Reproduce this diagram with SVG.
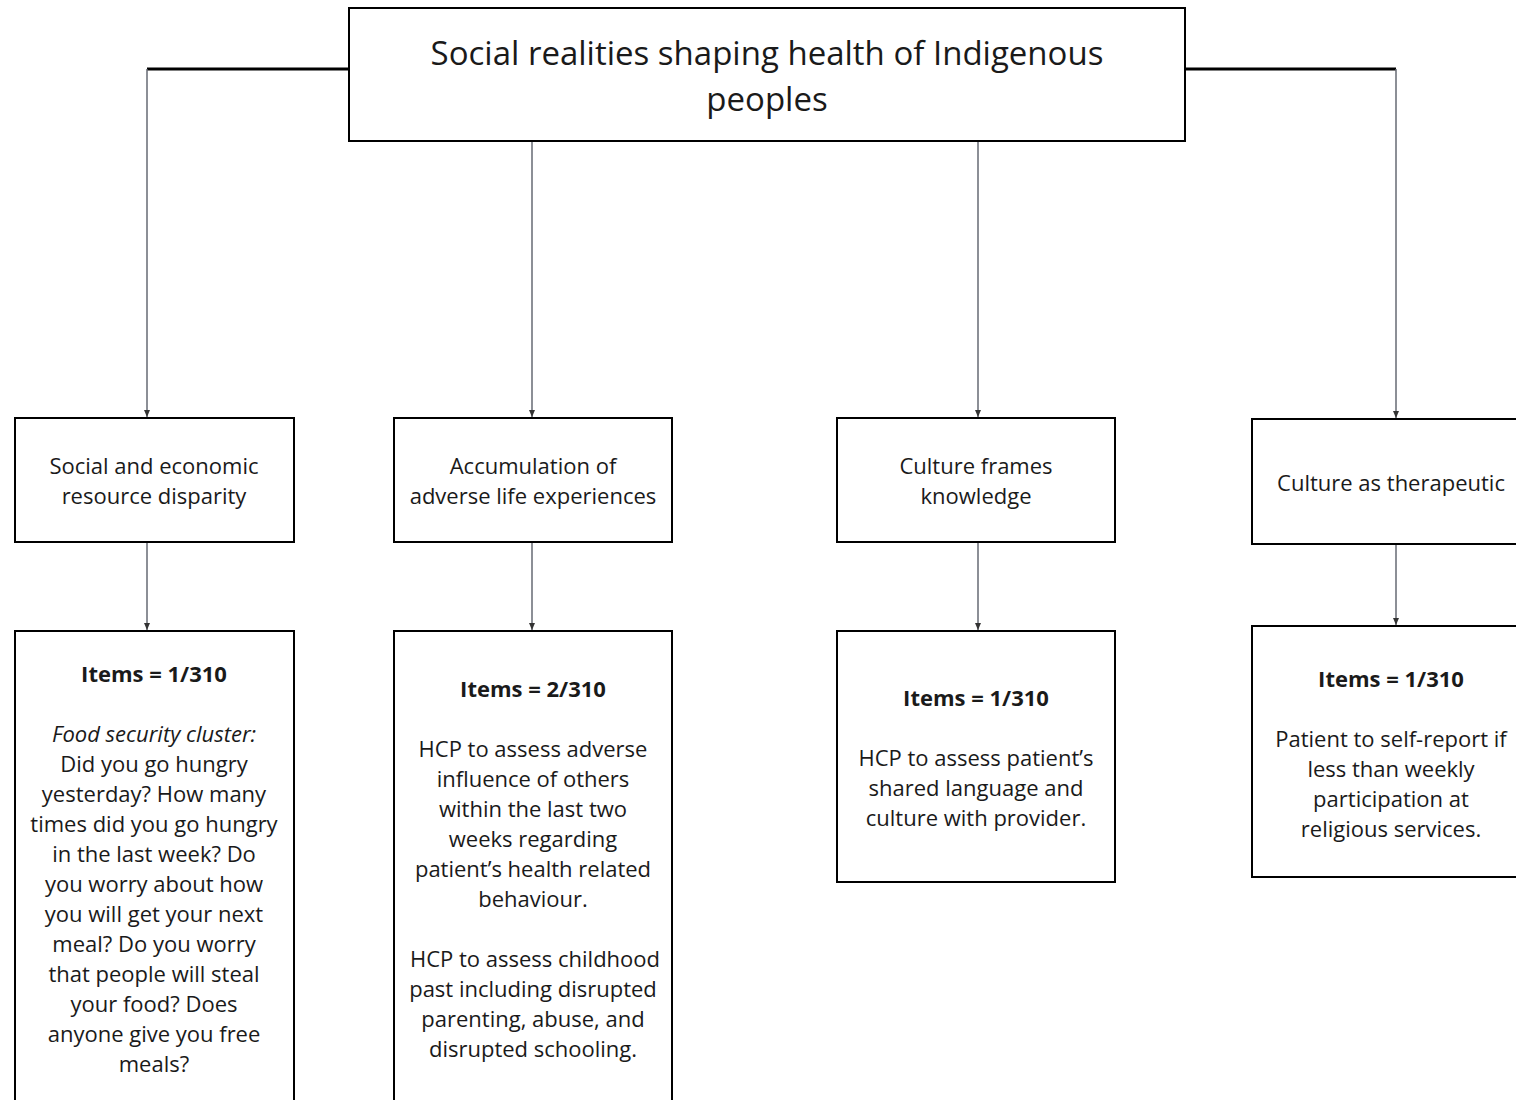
<svg xmlns="http://www.w3.org/2000/svg" width="1516" height="1100" viewBox="0 0 1516 1100">
<style>
.box{fill:#fff;stroke:#000;stroke-width:2}
.t{font-family:"Open Sans","Liberation Sans",sans-serif;font-size:22px;fill:#1a1a1a;text-anchor:middle}
.title{font-size:33px}
.b{font-weight:bold}
.i{font-style:italic}
.h{fill:none;stroke:#000;stroke-width:3}
.v{fill:none;stroke:#666a73;stroke-width:1.5;marker-end:url(#ah)}
</style>
<defs>
<marker id="ah" markerWidth="7" markerHeight="6" refX="7" refY="3" orient="auto" markerUnits="userSpaceOnUse" viewBox="0 0 7 6">
<path d="M0,0 L7,3 L0,6 Z" fill="#333"/>
</marker>
</defs>
<rect width="1516" height="1100" fill="#fff"/>
<g id="connectors">
<path class="h" d="M349,69 H147"/>
<path class="h" d="M1185,69 H1396"/>
<path class="v" d="M147,69 V417"/>
<path class="v" d="M532,141 V417"/>
<path class="v" d="M978,141 V417"/>
<path class="v" d="M1396,69 V418"/>
<path class="v" d="M147,542 V630"/>
<path class="v" d="M532,542 V630"/>
<path class="v" d="M978,542 V630"/>
<path class="v" d="M1396,544 V625"/>
</g>
<g id="root">
<rect class="box" x="349" y="8" width="836" height="133"/>
<text class="t title" x="767" y="65">Social realities shaping health of Indigenous</text>
<text class="t title" x="767" y="111">peoples</text>
</g>
<g id="n1">
<rect class="box" x="15" y="418" width="279" height="124"/>
<text class="t" x="154" y="474">Social and economic</text>
<text class="t" x="154" y="504">resource disparity</text>
</g>
<g id="n2">
<rect class="box" x="394" y="418" width="278" height="124"/>
<text class="t" x="533" y="474">Accumulation of</text>
<text class="t" x="533" y="504">adverse life experiences</text>
</g>
<g id="n3">
<rect class="box" x="837" y="418" width="278" height="124"/>
<text class="t" x="976" y="474">Culture frames</text>
<text class="t" x="976" y="504">knowledge</text>
</g>
<g id="n4">
<rect class="box" x="1252" y="419" width="280" height="125"/>
<text class="t" x="1391" y="491">Culture as therapeutic</text>
</g>
<g id="d1">
<rect class="box" x="15" y="631" width="279" height="480"/>
<text class="t b" x="154" y="682">Items = 1/310</text>
<text class="t i" x="154" y="742">Food security cluster:</text>
<text class="t" x="154" y="772">Did you go hungry</text>
<text class="t" x="154" y="802">yesterday? How many</text>
<text class="t" x="154" y="832">times did you go hungry</text>
<text class="t" x="154" y="862">in the last week? Do</text>
<text class="t" x="154" y="892">you worry about how</text>
<text class="t" x="154" y="922">you will get your next</text>
<text class="t" x="154" y="952">meal? Do you worry</text>
<text class="t" x="154" y="982">that people will steal</text>
<text class="t" x="154" y="1012">your food? Does</text>
<text class="t" x="154" y="1042">anyone give you free</text>
<text class="t" x="154" y="1072">meals?</text>
</g>
<g id="d2">
<rect class="box" x="394" y="631" width="278" height="480"/>
<text class="t b" x="533" y="697">Items = 2/310</text>
<text class="t" x="533" y="757">HCP to assess adverse</text>
<text class="t" x="533" y="787">influence of others</text>
<text class="t" x="533" y="817">within the last two</text>
<text class="t" x="533" y="847">weeks regarding</text>
<text class="t" x="533" y="877">patient’s health related</text>
<text class="t" x="533" y="907">behaviour.</text>
<text class="t" x="535" y="967">HCP to assess childhood</text>
<text class="t" x="533" y="997">past including disrupted</text>
<text class="t" x="533" y="1027">parenting, abuse, and</text>
<text class="t" x="533" y="1057">disrupted schooling.</text>
</g>
<g id="d3">
<rect class="box" x="837" y="631" width="278" height="251"/>
<text class="t b" x="976" y="706">Items = 1/310</text>
<text class="t" x="976" y="766">HCP to assess patient’s</text>
<text class="t" x="976" y="796">shared language and</text>
<text class="t" x="976" y="826">culture with provider.</text>
</g>
<g id="d4">
<rect class="box" x="1252" y="626" width="280" height="251"/>
<text class="t b" x="1391" y="687">Items = 1/310</text>
<text class="t" x="1391" y="747">Patient to self-report if</text>
<text class="t" x="1391" y="777">less than weekly</text>
<text class="t" x="1391" y="807">participation at</text>
<text class="t" x="1391" y="837">religious services.</text>
</g>
</svg>
